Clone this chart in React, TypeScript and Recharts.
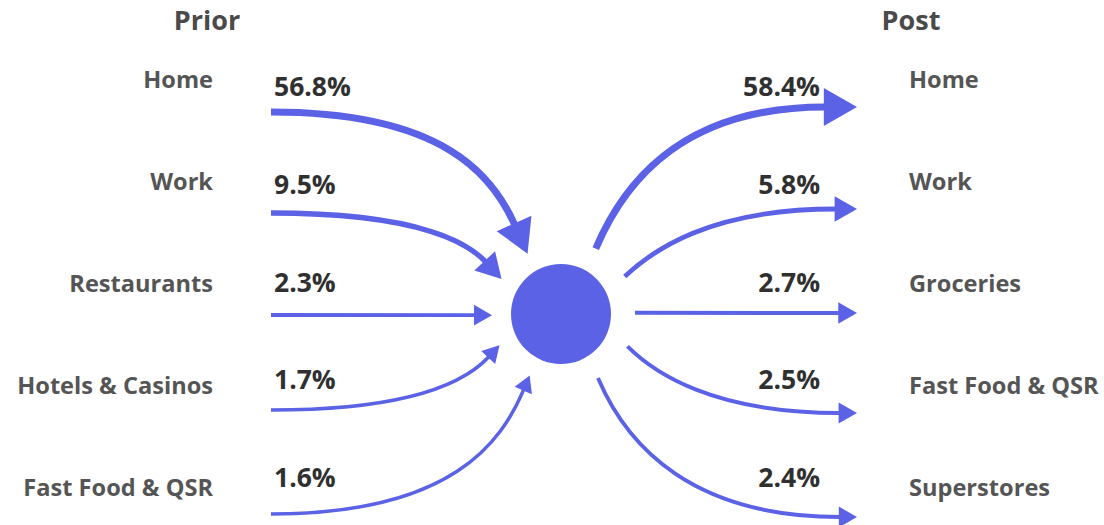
import React from 'react';
import { ComposedChart, XAxis, YAxis, Line, Scatter } from 'recharts';

// share of visits before / after, in %
const priorCategories = ['Home', 'Work', 'Restaurants', 'Hotels & Casinos', 'Fast Food & QSR'];
const priorShares = [56.8, 9.5, 2.3, 1.7, 1.6];
const postCategories = ['Home', 'Work', 'Groceries', 'Fast Food & QSR', 'Superstores'];
const postShares = [58.4, 5.8, 2.7, 2.5, 2.4];
const panelTitles = ['Prior', 'Post'];

const WIDTH = 1104;
const HEIGHT = 525;
const BLUE = '#5b62e5';
const FONT = "'Open Sans', sans-serif";

// layout (chart units == px, axes are hidden)
const HUB = { x: 561, y: 314, r: 50 };
const LEFT_ROWS = [112, 213, 315, 410, 514];
const RIGHT_ROWS = [107, 209, 313, 413, 517];
const LEFT_START_X = 271;
const RIGHT_TIP_X = 857;
const LEFT_PORT = [-61, -30.5, 1, 27, 63];
const LEFT_DIR = [66, 47, 0, -47, -67];
const RIGHT_PORT = [-62, -30.5, -1, 26, 60];
const RIGHT_DIR = [-67, -43, 0, 45, 67];
const labelBaseline = (i: number) => 88 + 102 * i;
const valueBaseline = (i: number) => 96 + 97.75 * i;

const rad = (d: number) => (d * Math.PI) / 180;
const strokeFor = (v: number) => 3 + Math.log(v);

type P = { x: number; y: number };

function arrowDot(kind: 'in' | 'out', dirDeg: number, w: number) {
  return (props: any) => {
    const { index, points } = props;
    if (index !== 1 || !points || points.length < 2) return <g key={`d${index}`} />;
    const s: P = { x: points[0].x, y: points[0].y };
    const t: P = { x: points[1].x, y: points[1].y };
    const hl = 4.7 * w;
    const hw = 5.4 * w;
    const d = { x: Math.cos(rad(dirDeg)), y: Math.sin(rad(dirDeg)) };
    let shaft = '';
    let head = '';
    if (kind === 'in') {
      const b = { x: t.x - d.x * hl, y: t.y - d.y * hl };
      const a = 0.72 * Math.abs(b.x - s.x);
      const k = 0.45 * Math.abs(b.y - s.y);
      shaft = `M${s.x},${s.y} C${s.x + a},${s.y} ${b.x - d.x * k},${b.y - d.y * k} ${b.x + d.x},${b.y + d.y}`;
      const n = { x: -d.y, y: d.x };
      head = `M${t.x},${t.y} L${b.x + (n.x * hw) / 2},${b.y + (n.y * hw) / 2} L${b.x - (n.x * hw) / 2},${b.y - (n.y * hw) / 2} Z`;
    } else {
      const b = { x: t.x - hl, y: t.y };
      const a = 0.6 * Math.abs(b.x - s.x);
      const k = 0.55 * Math.abs(b.y - s.y);
      shaft = `M${s.x},${s.y} C${s.x + d.x * k},${s.y + d.y * k} ${b.x - a},${b.y} ${b.x + 1},${b.y}`;
      head = `M${t.x},${t.y} L${b.x},${b.y - hw / 2} L${b.x},${b.y + hw / 2} Z`;
    }
    return (
      <g key={`d${index}`}>
        <path d={shaft} fill="none" stroke={BLUE} strokeWidth={w} />
        <path d={head} fill={BLUE} />
      </g>
    );
  };
}

const inArrows = priorShares.map((v, i) => {
  const phi = rad(LEFT_PORT[i]);
  return {
    key: `in-${i}`,
    w: strokeFor(v),
    dir: LEFT_DIR[i],
    data: [
      { x: LEFT_START_X, y: LEFT_ROWS[i] },
      { x: HUB.x - 69 * Math.cos(phi), y: HUB.y + 69 * Math.sin(phi) },
    ],
  };
});

const outArrows = postShares.map((v, i) => {
  const phi = rad(RIGHT_PORT[i]);
  return {
    key: `out-${i}`,
    w: strokeFor(v),
    dir: RIGHT_DIR[i],
    data: [
      { x: HUB.x + 74 * Math.cos(phi), y: HUB.y + 74 * Math.sin(phi) },
      { x: RIGHT_TIP_X, y: RIGHT_ROWS[i] },
    ],
  };
});

const titlePoints = panelTitles.map((t, i) => ({ x: i === 0 ? 207 : 911, y: 30, text: t, anchor: 'middle' }));
const categoryPoints = [
  ...priorCategories.map((c, i) => ({ x: 213, y: labelBaseline(i), text: c, anchor: 'end' })),
  ...postCategories.map((c, i) => ({ x: 909, y: labelBaseline(i), text: c, anchor: 'start' })),
];
const valuePoints = [
  ...priorShares.map((v, i) => ({ x: 274, y: valueBaseline(i), text: `${v.toFixed(1)}%`, anchor: 'start' })),
  ...postShares.map((v, i) => ({ x: 820, y: valueBaseline(i), text: `${v.toFixed(1)}%`, anchor: 'end' })),
];

const textShape = (size: number, color: string) => (p: any) => (
  <text
    x={p.cx}
    y={p.cy}
    textAnchor={p.payload.anchor}
    fontFamily={FONT}
    fontWeight={700}
    fontSize={size}
    fill={color}
  >
    {p.payload.text}
  </text>
);

export default function App() {
  return (
    <div style={{ position: 'absolute', left: 0, top: 0, width: WIDTH, height: HEIGHT, background: '#fff' }}>
      <ComposedChart width={WIDTH} height={HEIGHT} margin={{ top: 0, right: 0, bottom: 0, left: 0 }}>
        <XAxis type="number" dataKey="x" domain={[0, WIDTH]} hide allowDataOverflow />
        <YAxis type="number" dataKey="y" domain={[0, HEIGHT]} reversed hide allowDataOverflow />
        {inArrows.map((a) => (
          <Line
            key={a.key}
            data={a.data}
            dataKey="y"
            stroke="none"
            dot={arrowDot('in', a.dir, a.w)}
            activeDot={false}
            isAnimationActive={false}
          />
        ))}
        {outArrows.map((a) => (
          <Line
            key={a.key}
            data={a.data}
            dataKey="y"
            stroke="none"
            dot={arrowDot('out', a.dir, a.w)}
            activeDot={false}
            isAnimationActive={false}
          />
        ))}
        <Scatter
          data={[{ x: HUB.x, y: HUB.y }]}
          isAnimationActive={false}
          shape={(p: any) => <circle cx={p.cx} cy={p.cy} r={HUB.r} fill={BLUE} />}
        />
        <Scatter data={titlePoints} isAnimationActive={false} shape={textShape(27, '#4a4a4a')} />
        <Scatter data={categoryPoints} isAnimationActive={false} shape={textShape(23.6, '#555555')} />
        <Scatter data={valuePoints} isAnimationActive={false} shape={textShape(26.5, '#303030')} />
      </ComposedChart>
    </div>
  );
}
